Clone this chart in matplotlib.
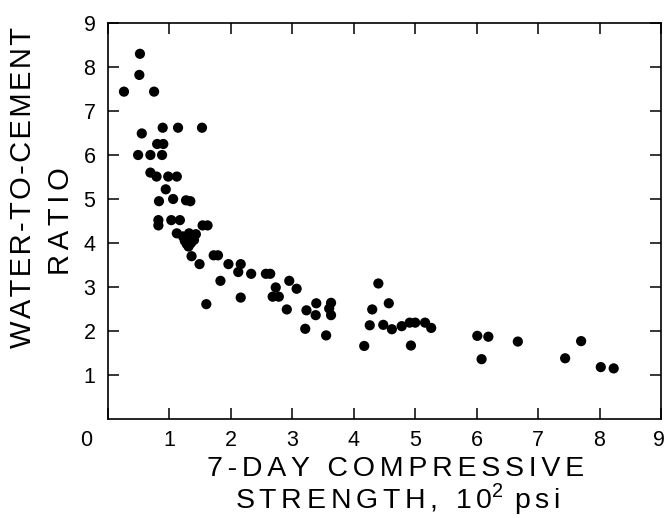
import numpy as np
import matplotlib
matplotlib.use("Agg")
import matplotlib.pyplot as plt
import matplotlib.transforms as mtransforms

plt.rcParams['font.family'] = ['Liberation Sans', 'DejaVu Sans']
plt.rcParams['mathtext.fontset'] = 'custom'
plt.rcParams['mathtext.rm'] = 'Liberation Sans'

# 7-day compressive strength (10^2 psi) vs water-to-cement ratio
strength = [0.52, 0.51, 0.26, 0.75, 0.89, 1.14, 1.53, 0.55, 0.80, 0.90,
            0.49, 0.69, 0.88, 0.69, 0.79, 0.98, 1.12, 0.94, 0.83, 1.06,
            1.27, 1.34,
            0.82, 0.82, 1.03, 1.17, 1.54, 1.62, 1.12,
            1.22, 1.30, 1.38, 1.43, 1.28, 1.35, 1.40, 1.32, 1.25, 1.31,
            1.36, 1.49, 1.72, 1.79, 1.83, 1.96, 2.16, 2.12, 2.33, 2.57,
            2.64, 1.60, 2.16, 2.73, 2.68, 2.78, 2.95, 3.07, 2.91, 3.21,
            3.23, 3.39, 3.38, 3.63, 3.60, 3.63, 3.55, 4.17, 4.26, 4.30,
            4.40, 4.57, 4.48,
            4.62, 4.78, 4.91, 5.00, 5.16, 5.26, 4.93, 6.01, 6.19, 6.08,
            6.67, 7.44, 7.70, 8.02, 8.23]
wc_ratio = [8.30, 7.82, 7.44, 7.44, 6.62, 6.62, 6.62, 6.49, 6.25, 6.25,
            6.00, 6.00, 6.00, 5.60, 5.51, 5.51, 5.51, 5.22, 4.95, 5.00,
            4.97, 4.95,
            4.52, 4.40, 4.52, 4.52, 4.40, 4.40, 4.22,
            4.15, 4.05, 4.15, 4.20, 3.98, 4.00, 4.07, 4.22, 4.05, 3.92,
            3.70, 3.52, 3.72, 3.72, 3.14, 3.52, 3.52, 3.34, 3.30, 3.30,
            3.30, 2.61, 2.76, 2.99, 2.78, 2.78, 3.14, 2.96, 2.49, 2.05,
            2.47, 2.63, 2.36, 2.64, 2.51, 2.36, 1.90, 1.66, 2.13, 2.49,
            3.08, 2.63, 2.14,
            2.04, 2.11, 2.19, 2.19, 2.19, 2.07, 1.67, 1.89, 1.87, 1.36,
            1.76, 1.38, 1.77, 1.18, 1.15]

x_ticks = list(range(0, 10))
y_ticks = list(range(1, 10))


def track(s, n=1):
    # spread letters apart with hair spaces
    return ('\u200a' * n).join(s)


fig = plt.figure(figsize=(6.67, 5.18), dpi=100)
ax = fig.add_axes([108 / 667, 1 - 419 / 518, 553 / 667, 396 / 518])

ax.scatter(strength, wc_ratio, s=54, color='black', edgecolors='none', zorder=3)

ax.set_xlim(0, 9)
ax.set_ylim(0, 9)
ax.set_xticks(x_ticks)
ax.set_yticks(y_ticks)
ax.set_xticklabels([str(v) for v in x_ticks])
ax.set_yticklabels([str(v) for v in y_ticks])
ax.tick_params(direction='in', length=8, width=1.1, top=True, right=True,
               labelsize=15.5, colors='black')
ax.tick_params(axis='x', pad=8)
ax.tick_params(axis='y', pad=9)
for sp in ax.spines.values():
    sp.set_linewidth(1.2)

# the "0" label sits left of the origin in the original
labels = ax.get_xticklabels()
shift0 = mtransforms.ScaledTranslation(-22 / 100, 0, fig.dpi_scale_trans)
labels[0].set_transform(labels[0].get_transform() + shift0)
shift9 = mtransforms.ScaledTranslation(-2 / 100, 0, fig.dpi_scale_trans)
labels[-1].set_transform(labels[-1].get_transform() + shift9)

fig.text(23 / 667, 1 - 188 / 518, track('WATER-TO-CEMENT', 1), rotation=90,
         ha='center', va='center', fontsize=21)
fig.text(61 / 667, 1 - 221 / 518, track('RATIO', 2), rotation=90,
         ha='center', va='center', fontsize=21)
fig.text(396 / 667, 1 - 469 / 518, track('7-DAY COMPRESSIVE', 2),
         ha='center', va='center', fontsize=20.5)
fig.text(398 / 667, 1 - 499 / 518,
         track('STRENGTH, 10', 2) + r'$^{\mathregular{2}}$' + '\u200a ' + track('psi', 2),
         ha='center', va='center', fontsize=20.5)

fig.savefig('out.png', dpi=100)
